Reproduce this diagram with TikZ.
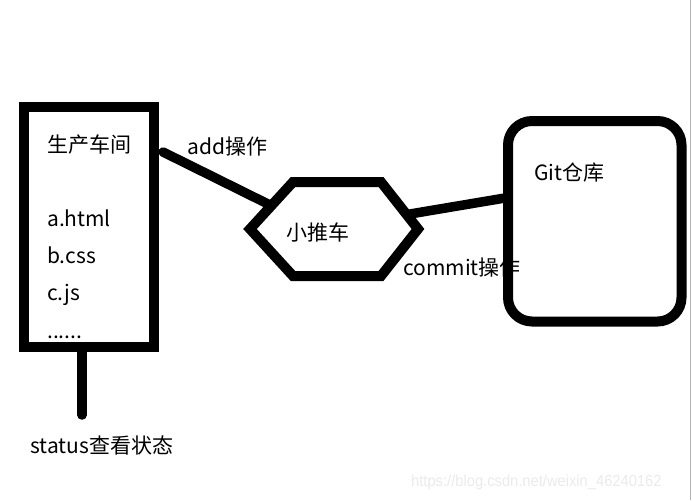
\documentclass[tikz,border=0pt]{standalone}
\usepackage{fontspec}
\setmainfont{Noto Sans CJK SC}
\newfontfamily\wmfont{Liberation Sans}
\begin{document}
\begin{tikzpicture}[x=1pt,y=-1pt,
  thick line/.style={line width=10pt},
  lbl/.style={anchor=base west,inner sep=0pt,font=\fontsize{21}{25}\selectfont},
  conn/.style={line width=9.5pt}]
\useasboundingbox (0,0) rectangle (692,500);
\fill[white] (0,0) rectangle (692,500);
\draw[gray!60,line width=1pt] (690.5,0) -- (690.5,500);
% texts
\node[lbl] (t1) at (47,152) {生产车间};
\node[lbl] (t2) at (47,226.5) {a.html};
\node[lbl] (t3) at (47,263.5) {b.css};
\node[lbl] (t4) at (47,300.5) {c.js};
\node[lbl] (t5) at (47,338) {......};
\node[lbl] (addl) at (187,154) {add操作};
\node[lbl] (cart) at (286,240) {小推车};
\node[lbl] (gitl) at (534,180) {Git仓库};
\node[lbl] (coml) at (403,275.5) {commit操作};
\node[lbl] (stat) at (30,453) {status查看状态};
\node[anchor=base west,inner sep=0pt,text=black!8,font=\wmfont\fontsize{16}{18}\selectfont,xscale=0.92] (wm) at (411,486.5) {https://blog.csdn.net/weixin\_46240162};
% shapes
\draw[thick line,miter limit=10] (24.3,107.3) rectangle (154,346.7);
\draw[thick line,miter limit=10] (250,229) -- (293,182) -- (381,182) -- (418,229) -- (381,276) -- (293,276) -- cycle;
\draw[thick line,rounded corners=24pt] (508,121) rectangle (681.5,321.5);
% connectors
\coordinate (addA) at (163,152);
\coordinate (addB) at (268,204);
\coordinate (comA) at (410,214);
\coordinate (comB) at (505,198);
\coordinate (stA) at (82,350);
\coordinate (stB) at (82,415);
\draw[conn,line cap=round] (addA) -- (addB);
\draw[conn] (comA) -- (comB);
\draw[conn,line cap=round] (stA) -- (stB);
\end{tikzpicture}
\end{document}
